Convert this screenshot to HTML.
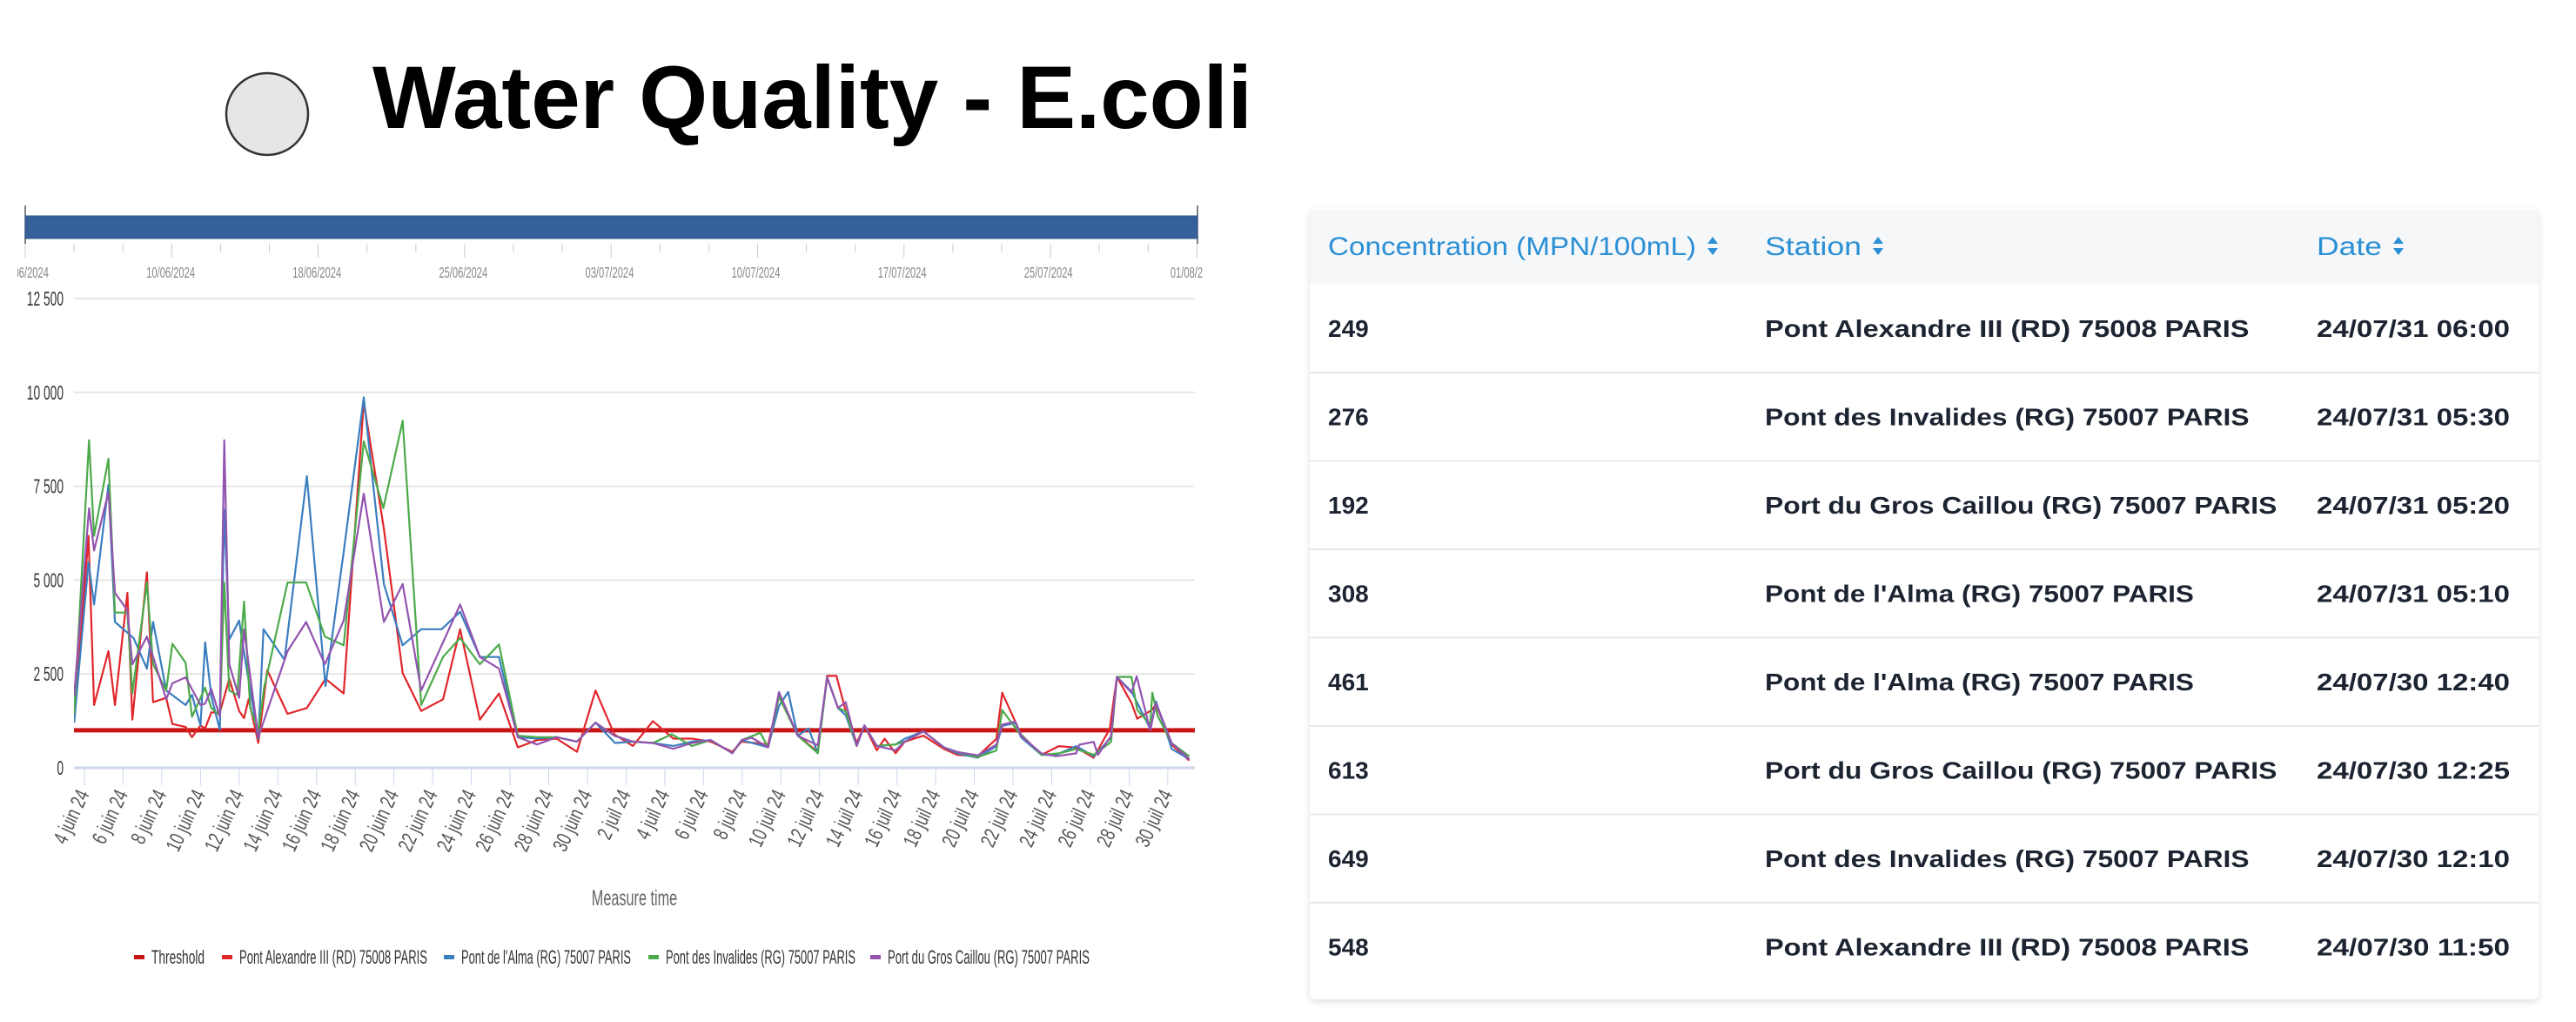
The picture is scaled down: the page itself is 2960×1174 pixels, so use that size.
<!DOCTYPE html>
<html><head><meta charset="utf-8"><style>
html,body{margin:0;padding:0;background:#fff;}
svg{display:block;}
.tk{font-family:"Liberation Sans Narrow","Liberation Sans",sans-serif;}
.tb{font-family:"Liberation Sans",sans-serif;}
</style></head><body>
<svg id="root" width="2960" height="1174" viewBox="0 0 2960 1174" xmlns="http://www.w3.org/2000/svg">
<defs>
<clipPath id="navclip"><rect x="20" y="290" width="1362" height="40"/></clipPath>
<clipPath id="plotclip"><rect x="85" y="330" width="1290" height="560"/></clipPath>
<filter id="sh" x="-2%" y="-2%" width="104%" height="106%"><feDropShadow dx="0" dy="3" stdDeviation="4" flood-color="#000" flood-opacity="0.12"/></filter>
</defs>
<circle cx="307" cy="131" r="47" fill="#e6e6e8" stroke="#333" stroke-width="2.5"/>
<text x="428" y="147" class="tb" font-weight="bold" font-size="102" textLength="1011" lengthAdjust="spacingAndGlyphs" fill="#000">Water Quality - E.coli</text>

<g id="chart"></g>

<g>
<rect x="1505" y="240" width="1412" height="908" rx="6" fill="#fff" filter="url(#sh)"/>
<rect x="1505" y="241" width="1412" height="86" fill="#f6f7f9"/>
<g id="tablebody"></g>
</g>
</svg>
<script>
// ---- chart data ----
const xLabels = ["4 juin 24","6 juin 24","8 juin 24","10 juin 24","12 juin 24","14 juin 24","16 juin 24","18 juin 24","20 juin 24","22 juin 24","24 juin 24","26 juin 24","28 juin 24","30 juin 24","2 juil 24","4 juil 24","6 juil 24","8 juil 24","10 juil 24","12 juil 24","14 juil 24","16 juil 24","18 juil 24","20 juil 24","22 juil 24","24 juil 24","26 juil 24","28 juil 24","30 juil 24"];
const yTicks = [0,2500,5000,7500,10000,12500];
const yTickLabels = ["0","2 500","5 000","7 500","10 000","12 500"];
const navLabels = ["01/06/2024","10/06/2024","18/06/2024","25/06/2024","03/07/2024","10/07/2024","17/07/2024","25/07/2024","01/08/2024"];
const thresholdValue = 1000;
// days since 4 June 2024
const alexDays = [-0.53,0.21,0.5,1.24,1.58,2.22,2.48,3.23,3.55,4.23,4.55,5.23,5.56,6.0,6.24,6.56,7.0,7.49,8.0,8.25,8.49,8.99,9.45,10.5,11.5,12.46,13.4,14.44,15.48,16.45,17.41,18.54,19.42,20.44,21.43,22.4,23.4,24.41,25.46,26.42,27.39,28.35,29.39,30.44,31.4,32.37,33.49,33.97,35.34,35.9,36.87,37.43,37.91,38.39,38.87,39.35,39.92,40.32,40.96,41.36,41.93,42.41,43.37,44.42,45.12,46.17,47.14,47.44,48.42,49.47,50.37,51.27,52.17,53.0,53.37,54.12,54.42,55.17,55.39,56.21,57.11];
const alexValues = [1204,6177,1671,3108,1671,4662,1282,5206,1748,1865,1166,1088,816,1127,1049,1476,1476,2370,1515,1321,1826,660,2603,1437,1593,2370,1981,9751,6371,2525,1515,1826,3691,1282,1981,544,738,777,427,2059,893,583,1243,777,777,699,427,699,622,1904,893,622,427,2448,2448,1515,660,1127,466,777,389,699,855,505,346,308,769,2000,884,346,577,538,269,1038,2422,1730,1307,1538,1692,615,192];
const almaDays = [-0.53,0.21,0.5,1.24,1.58,2.54,3.23,3.55,4.23,5.23,5.56,6.0,6.24,6.56,7.0,7.23,7.49,8.0,8.25,8.99,9.26,10.34,11.5,12.46,13.4,14.44,15.48,16.45,17.41,18.46,19.42,20.44,21.43,22.4,23.4,24.41,25.46,26.42,27.43,28.35,29.39,30.44,31.4,32.37,33.49,33.97,35.34,35.9,36.38,36.87,37.43,37.91,38.39,38.95,39.35,39.92,40.32,40.96,41.93,42.41,43.37,44.42,45.12,46.17,47.14,47.44,48.12,48.42,49.47,50.22,51.27,52.17,53.07,53.37,54.12,55.09,55.39,56.21,57.11];
const almaValues = [1204,5478,4351,7537,3885,3458,2642,3885,2059,1671,1943,1127,3341,1904,1010,6876,3419,3924,3069,777,3691,2875,7770,2176,5750,9868,4895,3263,3691,3691,4157,2953,2953,816,777,816,699,1204,660,699,660,583,699,738,389,738,544,1650,2020,855,1049,389,2409,1593,1400,583,1127,583,622,777,971,544,384,269,577,1115,1192,808,346,346,577,308,808,2422,2038,1038,1769,500,231];
const invDays = [-0.53,0.24,0.5,1.24,1.58,2.22,2.48,3.23,3.55,4.23,4.55,5.23,5.56,6.24,6.56,7.0,7.23,7.49,7.9,8.25,8.57,8.99,9.29,10.5,11.46,12.43,13.4,14.44,15.45,16.45,17.41,18.54,19.42,20.44,21.43,22.4,23.4,24.41,25.46,26.42,27.39,28.35,29.39,30.36,31.4,32.37,33.49,33.97,34.94,35.34,35.9,36.87,37.91,38.39,38.95,39.35,39.92,40.32,40.96,41.93,42.41,43.37,44.42,45.12,46.17,47.14,47.44,48.27,49.47,50.37,51.27,52.17,53.07,53.37,54.12,54.42,55.09,55.2,55.47,56.21,57.11];
const invValues = [1437,8726,6177,8236,4134,4134,1981,4934,2758,2059,3302,2797,1360,2137,1593,1399,4934,2059,1943,4429,1593,971,2137,4934,4934,3497,3263,8702,6915,9246,1671,2953,3458,2758,3287,855,816,816,699,1204,855,699,660,893,583,738,389,738,932,544,1900,855,389,2409,1593,1500,583,1127,583,622,700,971,544,423,285,461,1538,961,346,385,500,346,692,2422,2422,1538,1153,2000,1384,654,308];
const grosDays = [-0.53,0.24,0.5,1.24,1.58,2.22,2.48,3.23,4.23,4.55,5.23,6.0,6.24,6.56,7.0,7.23,7.49,8.0,8.25,8.99,10.5,11.46,12.43,13.4,14.44,15.48,16.45,17.41,19.42,20.44,21.43,22.4,23.4,24.41,25.46,26.42,27.39,28.35,29.39,30.44,31.4,32.37,33.49,33.97,34.5,35.34,35.9,36.87,37.91,38.39,38.95,39.35,39.92,40.32,40.96,41.93,42.41,43.37,44.42,45.12,46.17,47.14,47.44,48.12,48.42,49.47,50.22,51.27,51.42,52.17,52.39,53.07,53.37,54.12,54.39,55.09,55.39,56.21,57.11];
const grosValues = [1904,6915,5789,7343,4662,4196,2758,3497,1826,2253,2409,1671,1709,2098,1360,8726,2758,1865,3691,816,3108,3885,2758,3924,7304,3885,4895,2059,4351,2953,2642,816,622,816,699,1204,855,699,660,505,660,738,389,738,800,544,2020,855,600,2409,1593,1748,583,1127,583,466,700,971,544,423,331,615,1153,1230,846,385,308,385,615,692,346,846,2422,2000,2438,1000,1730,654,231];
const seriesNames = ["Pont Alexandre III (RD) 75008 PARIS","Pont de l'Alma (RG) 75007 PARIS","Pont des Invalides (RG) 75007 PARIS","Port du Gros Caillou (RG) 75007 PARIS"];

// ---- table data ----
const tConc = ["249","276","192","308","461","613","649","548"];
const tStation = ["Pont Alexandre III (RD) 75008 PARIS","Pont des Invalides (RG) 75007 PARIS","Port du Gros Caillou (RG) 75007 PARIS","Pont de l'Alma (RG) 75007 PARIS","Pont de l'Alma (RG) 75007 PARIS","Port du Gros Caillou (RG) 75007 PARIS","Pont des Invalides (RG) 75007 PARIS","Pont Alexandre III (RD) 75008 PARIS"];
const tDate = ["24/07/31 06:00","24/07/31 05:30","24/07/31 05:20","24/07/31 05:10","24/07/30 12:40","24/07/30 12:25","24/07/30 12:10","24/07/30 11:50"];

const NS = "http://www.w3.org/2000/svg";
function mk(tag, attrs, parent, txt){
  const e = document.createElementNS(NS, tag);
  for (const k in attrs) e.setAttribute(k, attrs[k]);
  if (txt !== undefined) e.textContent = txt;
  parent.appendChild(e);
  return e;
}
const X0 = 97, DX = 22.23, Y0 = 882, YMAX = 12500, YTOP = 343;
function xs(d){ return X0 + d*DX; }
function ys(v){ return Y0 - v*(Y0-YTOP)/YMAX; }

const chart = document.getElementById('chart');

// navigator
const nav = mk('g', {}, chart);


mk('line', {x1:29,y1:236,x2:29,y2:280,stroke:'#555','stroke-width':1.5}, nav);
mk('line', {x1:1376,y1:236,x2:1376,y2:280,stroke:'#555','stroke-width':1.5}, nav);
const bar = mk('rect', {x:29,y:248,width:1347,height:26,fill:'#35609a',stroke:'#2d5489','stroke-width':1}, nav);


for (let i=0;i<25;i++){
  const x = 29 + i*56.1;
  if (x>1377) break;
  mk('line', {x1:x,y1:280,x2:x,y2:(i%3===0?296:290),stroke:'#ccc','stroke-width':1}, nav);
}
const navTxt = mk('g', {'clip-path':'url(#navclip)'}, nav);
navLabels.forEach((s,i)=>{
  const t = mk('text', {x:0, y:0, 'text-anchor':'middle', 'font-size':18, fill:'#888', class:'tk', transform:'translate('+(28+168.1*i)+',319) scale(0.62,1)'}, navTxt, s);
  
  
});

// gridlines and y labels
yTicks.forEach((v,i)=>{
  const y = ys(v);
  if (v>0){
    const g = mk('line', {x1:85,y1:y,x2:1373,y2:y,stroke:'#e6e6e6','stroke-width':2}, chart);
    
    
  }
  const t = mk('text', {x:0, y:0, 'text-anchor':'end', 'font-size':23, fill:'#333', class:'tk', transform:'translate(73,'+(y+8)+') scale(0.6,1)'}, chart, yTickLabels[i]);
  
  
});
// x axis
const xa = mk('line', {x1:85,y1:Y0,x2:1373,y2:Y0,stroke:'#ccd6eb','stroke-width':3}, chart);


xLabels.forEach((s,i)=>{
  const x = xs(i*2);
  mk('line', {x1:x,y1:Y0,x2:x,y2:Y0+20,stroke:'#ccd6eb','stroke-width':1}, chart);
  const t = mk('text', {x:0, y:0, 'text-anchor':'end', 'font-size':24, fill:'#555', class:'tk', transform:'translate('+(x+6)+','+(Y0+30)+') rotate(-65) scale(0.72,1)'}, chart, s);
  
  
});
const xt = mk('text', {x:0, y:0, 'text-anchor':'middle', 'font-size':25, fill:'#666', class:'tk', transform:'translate(729,1040) scale(0.65,1)'}, chart, 'Measure time');



// series
const plot = mk('g', {'clip-path':'url(#plotclip)'}, chart);
const thr = mk('line', {x1:85,y1:ys(thresholdValue),x2:1373,y2:ys(thresholdValue),stroke:'#c81414','stroke-width':5}, plot);


function drawSeries(days, vals, color, name){
  let d = '';
  for (let i=0;i<days.length;i++) d += (i?'L':'M') + xs(days[i]).toFixed(1) + ',' + ys(vals[i]).toFixed(1);
  const p = mk('path', {d:d, fill:'none', stroke:color, 'stroke-width':2.2, 'stroke-linejoin':'round'}, plot);
  
  
}
drawSeries(alexDays, alexValues, '#e0262b', 'series-pont-alexandre-iii');
drawSeries(almaDays, almaValues, '#3a7ebf', 'series-pont-de-l-alma');
drawSeries(invDays, invValues, '#4caa4a', 'series-pont-des-invalides');
drawSeries(grosDays, grosValues, '#9354b0', 'series-port-du-gros-caillou');

// legend
const legendNames = ["Threshold"].concat(seriesNames);
const legendColors = ['#c81414','#e0262b','#3a7ebf','#4caa4a','#9354b0'];
const legendX = [154,255,510,745,1000];
const legendW = [61,216,195,218,232];
legendNames.forEach((s,i)=>{
  const g = mk('g', {}, chart);
  
  
  mk('rect', {x:legendX[i], y:1097, width:12, height:5, fill:legendColors[i]}, g);
  mk('text', {x:legendX[i]+20, y:1107, 'font-size':22, fill:'#333', class:'tk', textLength:legendW[i], lengthAdjust:'spacingAndGlyphs'}, g, s);
});

// table
const tb = document.getElementById('tablebody');
const hdrs = ["Concentration (MPN/100mL)","Station","Date"];
const hx = [1526,2028,2662];
const hw = [423,111,75];
hdrs.forEach((s,i)=>{
  const g = mk('g', {}, tb);
  
  
  mk('text', {x:hx[i], y:293, 'font-size':30, fill:'#2a8fd4', class:'tb', textLength:hw[i], lengthAdjust:'spacingAndGlyphs'}, g, s);
  const ax = hx[i]+hw[i]+19;
  mk('path', {d:'M'+(ax-6)+',280 L'+(ax+6)+',280 L'+ax+',272 Z M'+(ax-6)+',285 L'+(ax+6)+',285 L'+ax+',293 Z', fill:'#2a8fd4'}, g);
});
for (let i=0;i<tConc.length;i++){
  const cy = 377 + i*101.5;
  if (i>0){
    const l = mk('line', {x1:1505,y1:cy-50.5,x2:2917,y2:cy-50.5,stroke:'#e6e8eb','stroke-width':2}, tb);
    
    
  }
  const r = mk('g', {}, tb);
  
  
  mk('text', {x:1526, y:cy+10, 'font-size':28, 'font-weight':'bold', fill:'#1c2431', class:'tb'}, r, tConc[i]);
  const sw = tStation[i].length*15.9;
  mk('text', {x:2028, y:cy+10, 'font-size':28, 'font-weight':'bold', fill:'#1c2431', class:'tb', textLength:sw, lengthAdjust:'spacingAndGlyphs'}, r, tStation[i]);
  mk('text', {x:2662, y:cy+10, 'font-size':28, 'font-weight':'bold', fill:'#1c2431', class:'tb', textLength:222, lengthAdjust:'spacingAndGlyphs'}, r, tDate[i]);
}
</script>
</body></html>
